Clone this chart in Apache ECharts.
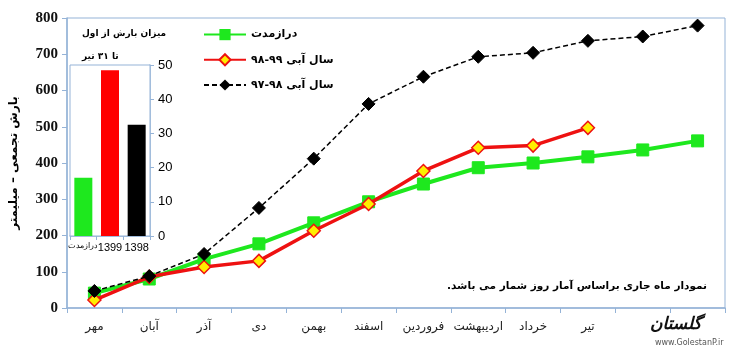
<!DOCTYPE html>
<html>
<head>
<meta charset="utf-8">
<script src="https://cdn.jsdelivr.net/npm/echarts@6/dist/echarts.min.js"></script>
<style>html,body{margin:0;padding:0;background:#fff;}#c{width:737px;height:356px;}</style>
</head>
<body>
<div id="c"></div>
<script>
const months = ['مهر','آبان','آذر','دی','بهمن','اسفند','فروردین','اردیبهشت','خرداد','تیر','مرداد','شهریور'];
const yTicks = [0,100,200,300,400,500,600,700,800];
const longTerm = [41,80,135,177,235,293,342,387,400,417,436,461];
const wy9899 = [22,86,113,130,213,287,378,442,448,497];
const wy9798 = [47,88,149,276,412,563,638,693,704,737,749,779];
const insetCats = ['درازمدت','1399','1398'];
const insetValues = [17,48.5,32.5];
const insetTicks = [0,10,20,30,40,50];

const seriesNames = ['درازمدت','سال آبی ۹۹-۹۸','سال آبی ۹۸-۹۷'];
const fa = '"DejaVu Sans", "Noto Sans", sans-serif';
const axisCol = '#95b3d7';

const chart = echarts.init(document.getElementById('c'), null, {renderer:'canvas'});
chart.setOption({
  animation:false,
  backgroundColor:'#fff',
  grid:[
    {left:60, right:12, top:18, bottom:48, show:true, borderColor:axisCol, borderWidth:1, containLabel:false},
    {left:70, right:587, top:65, bottom:120, show:true, borderColor:axisCol, borderWidth:1, backgroundColor:'#fff', z:5}
  ],
  legend:{
    orient:'vertical', left:198, top:24, itemWidth:42, itemHeight:14, itemGap:13,
    textStyle:{fontFamily:fa, fontWeight:'bold', fontSize:11, color:'#000'},
    data:seriesNames
  },
  xAxis:[
    {type:'category', gridIndex:0, data:months, boundaryGap:true,
     axisLine:{lineStyle:{color:axisCol, width:1.5}},
     axisTick:{show:true, length:5, lineStyle:{color:axisCol}},
     axisLabel:{fontFamily:fa, fontSize:12, color:'#222', margin:13, interval:0}},
    {type:'category', gridIndex:1, data:insetCats.map((c,i)=> i===0 ? {value:c, textStyle:{fontSize:8}} : c), boundaryGap:true,
     axisLine:{lineStyle:{color:axisCol, width:1.5}},
     axisTick:{show:true, length:4, lineStyle:{color:axisCol}},
     axisLabel:{fontFamily:'"Liberation Sans", Arial, sans-serif', fontSize:11, color:'#000', margin:6, interval:0}}
  ],
  yAxis:[
    {type:'value', gridIndex:0, min:yTicks[0], max:yTicks[yTicks.length-1], interval:100,
     name:'بارش تجمعی – میلیمتر', nameLocation:'middle', nameRotate:90, nameGap:47,
     nameTextStyle:{fontFamily:fa, fontWeight:'bold', fontSize:12, color:'#000'},
     axisLine:{show:true, lineStyle:{color:axisCol, width:1.5}},
     axisTick:{show:true, length:5, lineStyle:{color:axisCol}},
     splitLine:{show:false},
     axisLabel:{fontFamily:'"Liberation Serif", "Times New Roman", serif', fontSize:15, fontWeight:'bold', color:'#111', margin:9}},
    {type:'value', gridIndex:1, position:'right', min:insetTicks[0], max:insetTicks[insetTicks.length-1], interval:10,
     axisLine:{show:true, lineStyle:{color:axisCol, width:1.5}},
     axisTick:{show:true, length:4, lineStyle:{color:axisCol}},
     splitLine:{show:false},
     axisLabel:{fontFamily:'"Liberation Sans", Arial, sans-serif', fontSize:13, color:'#000', margin:8}}
  ],
  series:[
    {name:seriesNames[0], type:'line', xAxisIndex:0, yAxisIndex:0, data:longTerm,
     symbol:'rect', symbolSize:12, lineStyle:{color:'#1ee81e', width:4},
     itemStyle:{color:'#1ee81e', borderColor:'#1ee81e'}, z:2},
    {name:seriesNames[1], type:'line', xAxisIndex:0, yAxisIndex:0, data:wy9899,
     symbol:'diamond', symbolSize:13, lineStyle:{color:'#ee1111', width:3.5},
     itemStyle:{color:'#ffee00', borderColor:'#ee1111', borderWidth:1.5}, z:3},
    {name:seriesNames[2], type:'line', xAxisIndex:0, yAxisIndex:0, data:wy9798,
     symbol:'diamond', symbolSize:13, lineStyle:{color:'#000', width:1.5, type:[5,3]},
     itemStyle:{color:'#000', borderColor:'#000'}, z:4},
    {type:'bar', xAxisIndex:1, yAxisIndex:1, barWidth:18, z:6,
     data:insetValues.map((v,i)=>({value:v, itemStyle:{color:['#1ee81e','#ff0000','#000000'][i]}}))}
  ],
  graphic:[
    {type:'text', left:82, top:29, z:10, style:{text:'میزان بارش از اول', font:'bold 9px '+fa, fill:'#000'}},
    {type:'text', left:82, top:52, z:10, style:{text:'تا ۳۱ تیر', font:'bold 9px '+fa, fill:'#000'}},
    {type:'text', right:30, top:281, z:10, style:{text:'نمودار ماه جاری براساس آمار روز شمار می باشد.\u200F', font:'bold 10.5px '+fa, fill:'#000'}},
    {type:'rect', shape:{x:628, y:316, width:109, height:40}, style:{fill:'#fff'}, z:20},
    {type:'text', left:650, top:316, z:21, style:{text:'گلستان', font:'italic bold 17px '+fa, fill:'#111'}},
    {type:'text', left:655, top:339, z:21, style:{text:'www.GolestanP.ir', font:'8px "DejaVu Sans", sans-serif', fill:'#555'}}
  ]
});
</script>
</body>
</html>
